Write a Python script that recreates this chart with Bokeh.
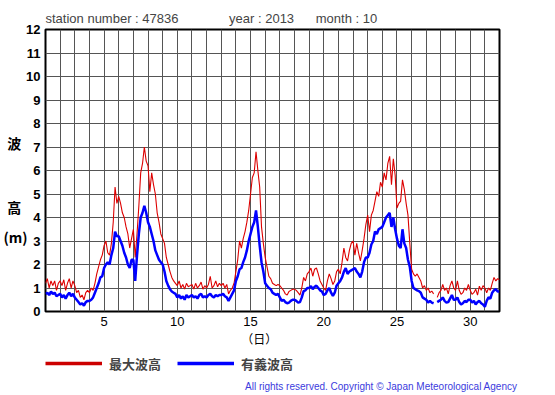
from bokeh.plotting import figure
from bokeh.models import (ColumnDataSource, Range1d, FixedTicker, Legend, LegendItem,
                          LinearAxis)
from bokeh.layouts import column
from bokeh.embed import file_html
from bokeh.resources import INLINE

nan = float("nan")

# 3-hourly readings (hours 0,3,...,21) for each day of October 2013
hours = [0, 3, 6, 9, 12, 15, 18, 21]
days = list(range(1, 32))

max_wave = [
    [1.2, 1.4, 1.0, 1.3, 1.1, 1.3, 0.9, 1.2],   # 1
    [1.3, 1.1, 1.35, 0.9, 1.2, 1.4, 1.0, 1.3],  # 2
    [1.1, 0.8, 0.9, 0.6, 0.7, 0.5, 0.8, 0.9],   # 3
    [0.8, 1.0, 0.9, 1.2, 1.6, 1.9, 2.2, 2.4],   # 4
    [2.8, 3.0, 2.5, 2.4, 2.9, 3.8, 5.3, 4.6],   # 5
    [4.9, 4.6, 4.2, 4.0, 3.6, 3.3, 2.7, 3.1],   # 6
    [3.5, 2.3, 3.3, 4.5, 5.9, 6.3, 7.0, 6.4],   # 7
    [6.2, 5.1, 5.9, 5.4, 5.0, 4.2, 3.8, 3.3],   # 8
    [3.1, 2.9, 2.3, 2.0, 1.7, 1.45, 1.3, 1.2],  # 9
    [1.1, 1.3, 1.0, 1.15, 0.95, 1.2, 1.05, 1.1],  # 10
    [1.15, 0.95, 1.2, 1.0, 1.1, 1.25, 0.95, 1.1],  # 11
    [1.0, 1.15, 1.5, 1.0, 1.1, 1.3, 1.05, 1.2],  # 12
    [1.1, 1.2, 1.0, 1.15, 0.75, 0.9, 1.0, 1.2],  # 13
    [1.7, 2.2, 3.0, 2.7, 3.1, 3.4, 3.8, 4.3],   # 14
    [5.0, 5.7, 5.9, 6.8, 6.0, 5.3, 3.6, 2.9],   # 15
    [2.3, 1.9, 1.5, 1.4, 1.2, 1.15, 1.1, 1.15],  # 16
    [1.1, 1.0, 0.9, 0.75, 0.7, 0.85, 0.9, 0.95],  # 17
    [0.95, 0.9, 0.8, 0.7, 1.0, 1.45, 1.3, 1.6],  # 18
    [1.7, 1.85, 1.5, 1.8, 1.85, 1.6, 1.3, 1.15],  # 19
    [1.0, 0.9, 1.3, 1.6, 1.4, 1.15, 1.3, 1.7],  # 20
    [1.8, 1.6, 2.1, 2.7, 2.3, 2.15, 2.6, 2.9],  # 21
    [3.0, 2.4, 2.9, 2.5, 2.15, 2.6, 3.1, 3.7],  # 22
    [4.1, 3.4, 4.1, 4.3, 4.7, 5.1, 4.9, 5.5],   # 23
    [5.3, 5.9, 5.6, 6.3, 6.6, 5.4, 6.5, 5.8],   # 24
    [4.4, 4.6, 4.7, 5.6, 5.2, 4.6, 4.1, 2.9],   # 25
    [1.8, 1.6, 1.5, 1.6, 1.45, 1.3, 1.0, 1.1],  # 26
    [0.9, 1.0, 0.8, 0.87, 0.75, nan, 0.6, 0.8],  # 27
    [0.9, 1.15, 0.9, 1.0, 0.75, 1.1, 1.3, 1.0],  # 28
    [0.9, 1.3, 0.9, 0.73, 0.8, 1.0, 0.9, 1.15],  # 29
    [0.9, 0.73, 0.8, 0.95, 0.7, 1.08, 0.9, 1.1],  # 30
    [1.0, 0.8, 1.0, 0.9, 1.2, 1.45, 1.3, 1.4],  # 31
]

sig_wave = [
    [0.75, 0.8, 0.7, 0.85, 0.75, 0.8, 0.65, 0.7],  # 1
    [0.75, 0.6, 0.7, 0.55, 0.7, 0.8, 0.65, 0.75],  # 2
    [0.6, 0.5, 0.4, 0.3, 0.35, 0.25, 0.4, 0.45],   # 3
    [0.45, 0.5, 0.6, 0.8, 1.0, 1.2, 1.45, 1.5],    # 4
    [1.85, 2.0, 2.1, 2.0, 2.4, 2.7, 3.4, 3.2],     # 5
    [3.2, 3.0, 2.8, 2.5, 2.3, 2.0, 1.85, 2.2],     # 6
    [2.2, 1.3, 2.4, 3.3, 4.0, 4.2, 4.5, 4.2],      # 7
    [3.8, 3.6, 3.3, 3.0, 2.6, 2.4, 2.2, 2.1],      # 8
    [2.0, 1.7, 1.3, 1.1, 0.95, 0.85, 0.8, 0.75],   # 9
    [0.6, 0.7, 0.55, 0.65, 0.5, 0.7, 0.6, 0.65],   # 10
    [0.7, 0.6, 0.65, 0.55, 0.7, 0.75, 0.6, 0.65],  # 11
    [0.6, 0.7, 0.75, 0.65, 0.6, 0.7, 0.65, 0.7],   # 12
    [0.7, 0.75, 0.65, 0.6, 0.45, 0.6, 0.75, 0.9],  # 13
    [1.3, 1.5, 1.8, 1.85, 2.1, 2.3, 2.6, 3.0],     # 14
    [3.3, 3.6, 3.8, 4.3, 3.6, 2.8, 2.1, 1.7],      # 15
    [1.2, 1.1, 1.0, 0.95, 0.8, 0.75, 0.7, 0.75],   # 16
    [0.6, 0.45, 0.5, 0.4, 0.35, 0.38, 0.45, 0.5],  # 17
    [0.5, 0.45, 0.38, 0.4, 0.6, 0.87, 0.9, 1.0],   # 18
    [1.0, 1.08, 0.95, 1.05, 1.1, 1.0, 0.9, 0.85],  # 19
    [0.7, 0.75, 0.9, 1.0, 0.8, 0.66, 0.8, 1.1],    # 20
    [1.2, 1.3, 1.45, 1.7, 1.85, 1.6, 1.7, 1.75],   # 21
    [1.8, 1.85, 1.7, 1.6, 1.45, 1.7, 2.1, 2.3],    # 22
    [2.3, 2.5, 2.85, 3.0, 3.4, 3.3, 3.5, 3.55],    # 23
    [3.6, 3.8, 4.0, 4.1, 4.2, 3.6, 4.0, 3.5],      # 24
    [3.1, 2.8, 2.7, 3.5, 2.9, 2.7, 2.2, 1.9],      # 25
    [1.3, 1.0, 0.95, 0.9, 0.87, 0.8, 0.6, 0.55],   # 26
    [0.5, 0.38, 0.45, 0.38, 0.35, nan, 0.4, 0.45], # 27
    [0.5, 0.6, 0.45, 0.38, 0.4, 0.55, 0.7, 0.5],   # 28
    [0.5, 0.6, 0.4, 0.3, 0.35, 0.45, 0.4, 0.5],    # 29
    [0.5, 0.38, 0.45, 0.3, 0.4, 0.45, 0.35, 0.3],  # 30
    [0.2, 0.45, 0.6, 0.55, 0.8, 0.9, 0.95, 0.85],  # 31
]
end_max = 1.35
end_sig = 0.85

x_ticks = [5, 10, 15, 20, 25, 30]
y_ticks = list(range(0, 13))
NB = "\u00a0"
y_title = {7.15: "波" + NB * 2, 4.43: "高" + NB * 2, 3.17: "(m)"}
x_title = {15.6: "（日）"}
title_text = ("station number : 47836" + NB * 14 + "year : 2013" + NB * 6 + "month : 10")
legend_labels = ["最大波高", "有義波高"]
copyright_text = "All rights reserved. Copyright © Japan Meteorological Agency"

# flatten to time series
xs, ymax, ysig = [], [], []
for d, rm, rs in zip(days, max_wave, sig_wave):
    for h, vm, vs in zip(hours, rm, rs):
        xs.append(d + h / 24.0)
        ymax.append(vm)
        ysig.append(vs)
xs.append(32.0)
ymax.append(end_max)
ysig.append(end_sig)

src = ColumnDataSource(dict(x=xs, ymax=ymax, ysig=ysig))

W = 553
p = figure(width=W, height=351, output_backend="svg", toolbar_location=None,
           x_range=Range1d(1, 32), y_range=Range1d(0, 12),
           min_border_left=45, min_border_right=54, min_border_top=29, min_border_bottom=40)
p.background_fill_color = "white"
p.border_fill_color = "white"
p.outline_line_color = "black"
p.outline_line_width = 2

# title
p.title.text = title_text
p.title.text_font = "Liberation Sans"
p.title.text_font_size = "13px"
p.title.text_font_style = "normal"
p.title.align = "left"
p.title.standoff = 8

# grid
p.xgrid.ticker = FixedTicker(ticks=list(range(1, 33)))
p.ygrid.ticker = FixedTicker(ticks=y_ticks)
for g in (p.xgrid, p.ygrid):
    g.grid_line_color = "#555555"
    g.grid_line_width = 1

no_ticks = dict(axis_line_color=None, major_tick_line_color=None, minor_tick_line_color=None,
                major_tick_out=0, major_tick_in=0, minor_tick_out=0, minor_tick_in=0)

# axes
p.xaxis.ticker = FixedTicker(ticks=x_ticks)
p.yaxis.ticker = FixedTicker(ticks=y_ticks)
for ax in (p.xaxis, p.yaxis):
    for k, v in no_ticks.items():
        setattr(ax, k, v)
    ax.major_label_text_font = "Liberation Sans"
    ax.major_label_text_color = "black"
    ax.major_label_text_font_size = "13px"
p.yaxis.major_label_text_font_style = "bold"
p.yaxis.major_label_standoff = 5
p.xaxis.major_label_standoff = 5

# secondary axis used for the vertical y title characters
ytl = LinearAxis(ticker=FixedTicker(ticks=list(y_title.keys())), major_label_overrides=y_title,
                 major_label_standoff=-4, major_label_text_font="Noto Sans CJK JP",
                 major_label_text_font_style="bold", major_label_text_font_size="14px",
                 major_label_text_color="black", **no_ticks)
p.add_layout(ytl, "left")

# secondary axis for the x title
xtl = LinearAxis(ticker=FixedTicker(ticks=list(x_title.keys())), major_label_overrides=x_title,
                 major_label_standoff=1, major_label_text_font="Noto Sans CJK JP",
                 major_label_text_font_size="12px", major_label_text_color="black", **no_ticks)
p.add_layout(xtl, "below")

# data lines
red = "#dd0000"
blue = "#0000ff"
p.line("x", "ymax", source=src, line_color=red, line_width=1.1)
p.line("x", "ysig", source=src, line_color=blue, line_width=2.5)

# ---- legend / copyright strip ----
H2 = 42
q = figure(width=W, height=H2, output_backend="svg", toolbar_location=None,
           x_range=Range1d(0, 1), y_range=Range1d(0, 1),
           min_border_left=45, min_border_right=54, min_border_top=0, min_border_bottom=0,
           title_location="below")
q.axis.visible = False
q.grid.visible = False
q.outline_line_color = None
q.background_fill_color = "white"
q.border_fill_color = "white"
lr = q.line(x=[nan], y=[nan], line_color="#cc0000", line_width=3.5)
lb = q.line(x=[nan], y=[nan], line_color=blue, line_width=3.5)
legend = Legend(items=[LegendItem(label=legend_labels[0], renderers=[lr]),
                       LegendItem(label=legend_labels[1], renderers=[lb])],
                location="top_left", orientation="horizontal",
                glyph_width=57, glyph_height=24, label_height=24,
                label_standoff=7, spacing=16, padding=0, margin=0,
                border_line_color=None, background_fill_alpha=0,
                label_text_font="Noto Sans CJK JP", label_text_font_style="bold",
                label_text_font_size="13px")
q.add_layout(legend, "center")
q.title.text = copyright_text
q.title.align = "right"
q.title.offset = -18
q.title.standoff = 4
q.title.text_font = "Liberation Sans"
q.title.text_font_size = "10px"
q.title.text_font_style = "normal"
q.title.text_color = "#3b3bdd"

layout = column(p, q, spacing=0)
open("out.html", "w").write(file_html(layout, INLINE))
